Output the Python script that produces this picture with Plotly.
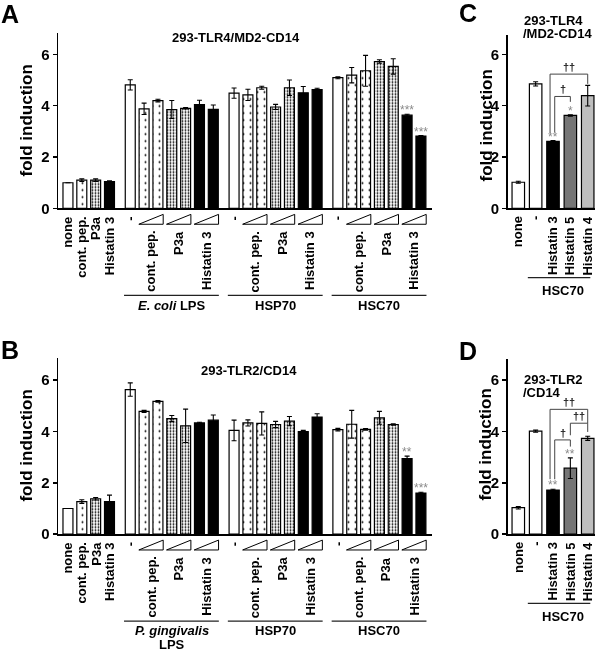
import plotly.graph_objects as go

W, H = 600, 663
FONT = "Liberation Sans, Arial, Helvetica, sans-serif"

# ---------------- data ----------------
base_labels = ["none", "cont. pep.", "P3a", "Histatin 3"]
base_kinds = ["plain", "cp", "p3a", "h3"]
pair_labels = ["cont. pep.", "P3a", "Histatin 3"]
group_kinds = ["plain", "cp", "cp", "p3a", "p3a", "h3", "h3"]

A_title = "293-TLR4/MD2-CD14"
A_base = [1.0, 1.10, 1.10, 1.05]
A_base_err = [0.0, 0.05, 0.05, 0.03]
A_group_names = [["<i>E. coli</i> LPS"], ["HSP70"], ["HSC70"]]
A_ecoli = [4.81, 3.88, 4.20, 3.85, 3.90, 4.04, 3.86]
A_ecoli_err = [0.20, 0.22, 0.05, 0.35, 0.03, 0.17, 0.17]
A_hsp70 = [4.49, 4.42, 4.70, 3.95, 4.70, 4.50, 4.63]
A_hsp70_err = [0.20, 0.22, 0.06, 0.10, 0.30, 0.25, 0.05]
A_hsc70 = [5.09, 5.19, 5.36, 5.72, 5.53, 3.63, 2.82]
A_hsc70_err = [0.04, 0.30, 0.60, 0.07, 0.30, 0.04, 0.02]
A_hsc70_sig = ["", "", "", "", "", "***", "***"]

B_title = "293-TLR2/CD14"
B_base = [1.0, 1.27, 1.38, 1.27]
B_base_err = [0.0, 0.07, 0.05, 0.25]
B_group_names = [["<i>P. gingivalis</i>", "LPS"], ["HSP70"], ["HSC70"]]
B_pg = [5.63, 4.78, 5.17, 4.50, 4.22, 4.33, 4.44]
B_pg_err = [0.26, 0.04, 0.03, 0.12, 0.65, 0.03, 0.20]
B_hsp70 = [4.04, 4.33, 4.31, 4.27, 4.40, 3.99, 4.56]
B_hsp70_err = [0.40, 0.12, 0.45, 0.12, 0.18, 0.05, 0.13]
B_hsc70 = [4.07, 4.28, 4.08, 4.53, 4.27, 2.94, 1.60]
B_hsc70_err = [0.05, 0.54, 0.03, 0.25, 0.03, 0.10, 0.03]
B_hsc70_sig = ["", "", "", "", "", "**", "***"]

CD_labels = ["none", "-", "Histatin 3", "Histatin 5", "Histatin 4"]
CD_kinds = ["plain", "plain", "h3", "h5", "h4"]
CD_group_name = "HSC70"
C_title = ["293-TLR4", "/MD2-CD14"]
C_vals = [1.02, 4.85, 2.61, 3.62, 4.39]
C_err = [0.04, 0.08, 0.03, 0.03, 0.40]
C_sig = ["", "", "**", "*", ""]
# brackets: (left bar, right bar, top, left end, right end, label)
C_brackets = [(2, 4, 5.23, 2.92, 4.85, "††"), (2, 3, 4.36, 2.95, 4.15, "†")]

D_title = ["293-TLR2", "/CD14"]
D_vals = [1.03, 4.01, 1.72, 2.57, 3.73]
D_err = [0.05, 0.04, 0.03, 0.40, 0.08]
D_sig = ["", "", "**", "**", ""]
D_brackets = [(2, 4, 4.86, 2.14, 4.32, "††"), (2, 3, 3.67, 2.14, 3.41, "†"),
              (3, 4, 4.32, 3.85, 3.98, "††")]

# ---------------- helpers ----------------
def py(p):
    return 1 - p / H


def pxp(p):
    return p / W


UNIT = 26.0
STYLE = {
    "plain": dict(color="white"),
    "cp": dict(color="white", pattern=dict(shape=".", fgcolor="black", bgcolor="white",
                                           size=7, solidity=0.06, fillmode="replace")),
    "p3a": dict(color="white", pattern=dict(shape=".", fgcolor="black", bgcolor="white",
                                            size=3, solidity=0.30, fillmode="replace")),
    "h3": dict(color="black"),
    "h5": dict(color="#767676"),
    "h4": dict(color="#bebebe"),
}

fig = go.Figure()
annotations = []
shapes = []


def add_bars(xa, ya, xs, ys, es, kinds, width):
    for kind in dict.fromkeys(kinds):
        idx = [i for i, k in enumerate(kinds) if k == kind]
        fig.add_trace(go.Bar(
            x=[xs[i] for i in idx], y=[ys[i] for i in idx],
            error_y=dict(type="data", array=[es[i] for i in idx], color="black",
                         thickness=1.1, width=2.5, visible=True),
            marker=dict(**STYLE[kind], line=dict(color="black", width=1.2)),
            width=width, xaxis=xa, yaxis=ya, showlegend=False, hoverinfo="skip"))


def txt(text, x, y, xref="paper", yref="paper", size=13, angle=0, xa="center", ya="middle",
        color="black", bold=True, align="center", yshift=0):
    annotations.append(dict(text=text, x=x, y=y, xref=xref, yref=yref, showarrow=False,
                            textangle=angle, xanchor=xa, yanchor=ya, align=align, yshift=yshift,
                            font=dict(family=FONT, size=size, color=color,
                                      weight="bold" if bold else "normal")))


def sig_txt(s, x, y, xref, yref):
    txt(s, x, y, xref=xref, yref=yref, ya="bottom", size=12, color="#8a8a8a", bold=False,
        yshift=-5)


def build_ab(axn, zero, base, base_err, names, gvals, gerrs, sig):
    xa = "x" if axn == 1 else f"x{axn}"
    ya = "y" if axn == 1 else f"y{axn}"
    xs = list(range(len(base)))
    ys = list(base)
    es = list(base_err)
    kinds = list(base_kinds)
    for i, lab in enumerate(base_labels):
        txt(lab, xs[i], py(zero + 6), xref=xa, angle=-90, ya="top")
    start = len(base) + 0.5
    for g, (name, vals, errs) in enumerate(zip(names, gvals, gerrs)):
        gx = [start + i for i in range(len(vals))]
        xs += gx
        ys += vals
        es += errs
        kinds += group_kinds
        txt("-", gx[0], py(zero + 6), xref=xa, angle=-90, ya="top")
        for p, lab in enumerate(pair_labels):
            c1, c2 = gx[1 + 2 * p], gx[2 + 2 * p]
            xl, xr = c1 - 0.38, c2 + 0.38
            shapes.append(dict(type="path", xref=xa, yref="paper",
                               path=f"M {xl},{py(zero + 16)} L {xr},{py(zero + 16)} L {xr},{py(zero + 6)} Z",
                               line=dict(color="black", width=1)))
            txt(lab, (c1 + c2) / 2, py(zero + 21), xref=xa, angle=-90, ya="top")
        shapes.append(dict(type="line", xref=xa, yref="paper", x0=gx[0] - 0.45, x1=gx[-1] + 0.4,
                           y0=py(zero + 88), y1=py(zero + 88), line=dict(color="#222", width=1.3)))
        for k, line in enumerate(name):
            txt(line, (gx[0] + gx[-1]) / 2, py(zero + 98 + 13.5 * k), xref=xa)
        start += len(vals) + 0.5
    add_bars(xa, ya, xs, ys, es, kinds, 0.72)
    # significance on last group
    gx = xs[-7:]
    for i, s in enumerate(sig):
        if s:
            sig_txt(s, gx[i], ys[-7 + i] + es[-7 + i], xa, ya)


def build_cd(axn, zero, vals, errs, sig, brackets):
    xa, ya = f"x{axn}", f"y{axn}"
    xs = list(range(len(vals)))
    add_bars(xa, ya, xs, vals, errs, CD_kinds, 0.72)
    for i, lab in enumerate(CD_labels):
        txt(lab, xs[i], py(zero + 6), xref=xa, angle=-90, ya="top")
    shapes.append(dict(type="line", xref=xa, yref="paper", x0=xs[1] - 0.45, x1=xs[-1] + 0.15,
                       y0=py(zero + 70), y1=py(zero + 70), line=dict(color="#222", width=1.3)))
    txt(CD_group_name, (xs[1] + xs[-1]) / 2 + 0.1, py(zero + 83), xref=xa)
    for i, s in enumerate(sig):
        if s:
            sig_txt(s, xs[i], vals[i] + errs[i], xa, ya)
    for (l, r, top, yl, yr, lab) in brackets:
        xl = xs[l] + (-0.17 if r - l > 1 else (0.1 if l == 2 else 0.0))
        xr = xs[r]
        shapes.append(dict(type="path", xref=xa, yref=ya,
                           path=f"M {xl},{yl} L {xl},{top} L {xr},{top} L {xr},{yr}",
                           line=dict(color="#444", width=1)))
        txt(lab, (xl + xr) / 2, top, xref=xa, yref=ya, ya="bottom", size=11, bold=True,
            color="#111", yshift=-1)


zA, zB = 211.0, 540.7
build_ab(1, zA, A_base, A_base_err, A_group_names,
         [A_ecoli, A_hsp70, A_hsc70], [A_ecoli_err, A_hsp70_err, A_hsc70_err], A_hsc70_sig)
build_ab(2, zB, B_base, B_base_err, B_group_names,
         [B_pg, B_hsp70, B_hsc70], [B_pg_err, B_hsp70_err, B_hsc70_err], B_hsc70_sig)
build_cd(3, zA, C_vals, C_err, C_sig, C_brackets)
build_cd(4, zB, D_vals, D_err, D_sig, D_brackets)

# titles, letters, axis titles
txt(A_title, pxp(236), py(37.5), size=13)
txt(B_title, pxp(249), py(375), size=13)
txt(C_title[0], pxp(522), py(21), size=13, xa="left")
txt(C_title[1], pxp(521), py(34), size=13, xa="left")
txt(D_title[0], pxp(522), py(384), size=13, xa="left")
txt(D_title[1], pxp(521), py(397), size=13, xa="left")
for letter, (lx, ly) in zip("ABCD", [(10, 14), (10, 354), (468, 13), (468, 355)]):
    txt(letter, pxp(lx), py(ly), size=25)
for (fx, fy) in [(27, 122), (27, 451), (486, 127), (486, 450)]:
    txt("fold induction", pxp(fx), py(fy), size=17, angle=-90)

yax = dict(showline=True, linecolor="black", linewidth=1.5, ticks="outside", ticklen=4,
           tickwidth=1.5, tickcolor="black", tickvals=[0, 2, 4, 6], showgrid=False,
           zeroline=False, tickfont=dict(family=FONT, size=15, color="black", weight="bold"))
xax = dict(showline=True, linecolor="black", linewidth=1.5, ticks="", showticklabels=False,
           showgrid=False, zeroline=False)

ab_x = [pxp(58), pxp(432)]
cd_x = [pxp(507.7), pxp(595)]
fig.update_layout(
    width=W, height=H, margin=dict(l=0, r=0, t=0, b=0),
    paper_bgcolor="white", plot_bgcolor="white", barmode="overlay", bargap=0,
    xaxis=dict(**xax, domain=ab_x, range=[-0.72, 26.3], anchor="y"),
    yaxis=dict(**yax, domain=[py(zA), py(33)], range=[0, (zA - 33) / UNIT], anchor="x"),
    xaxis2=dict(**xax, domain=ab_x, range=[-0.72, 26.3], anchor="y2"),
    yaxis2=dict(**yax, domain=[py(zB), py(362)], range=[0, (zB - 362) / UNIT], anchor="x2"),
    xaxis3=dict(**xax, domain=cd_x, range=[-0.61, 4.42], anchor="y3"),
    yaxis3=dict(**yax, domain=[py(zA), py(35)], range=[0, (zA - 35) / UNIT], anchor="x3"),
    xaxis4=dict(**xax, domain=cd_x, range=[-0.61, 4.42], anchor="y4"),
    yaxis4=dict(**yax, domain=[py(zB), py(363)], range=[0, (zB - 363) / UNIT], anchor="x4"),
    annotations=annotations, shapes=shapes,
)

fig.write_html(
    "out.html",
    config={"displayModeBar": False, "staticPlot": True},
    post_script=("document.body.style.margin='0';document.body.style.overflow='hidden';"
                 "var gd=document.querySelector('.plotly-graph-div');"
                 "if(gd){gd.style.willChange='transform';}"),
)
